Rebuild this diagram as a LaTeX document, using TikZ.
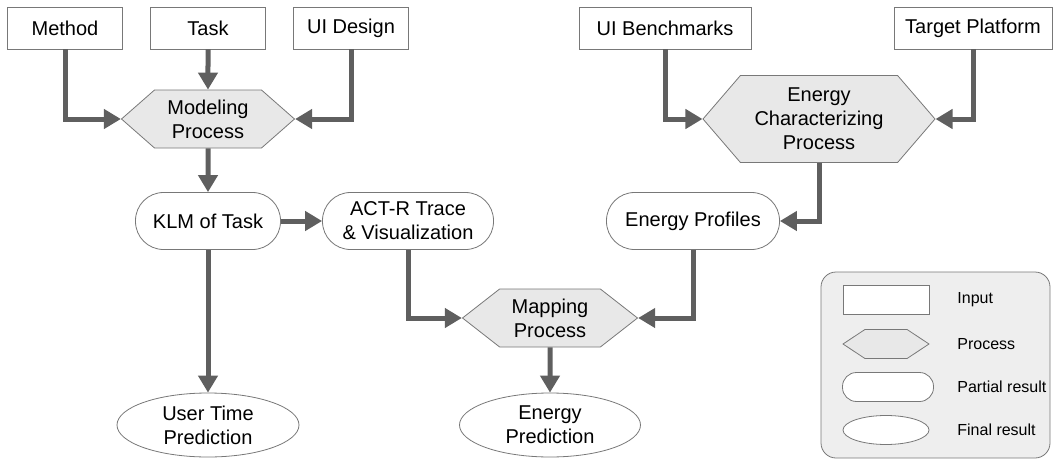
\documentclass[tikz,border=0pt]{standalone}
\usepackage{fontspec}
\setmainfont{Liberation Sans}
\usetikzlibrary{shapes.geometric,shapes.symbols,arrows.meta}
\definecolor{edgegray}{RGB}{120,120,120}
\definecolor{arrowgray}{RGB}{95,95,95}
\definecolor{procfill}{RGB}{232,232,232}
\definecolor{legfill}{RGB}{238,238,238}
\begin{document}
\begin{tikzpicture}[
        x=1pt, y=-1pt,
        every node/.style={draw=edgegray, line width=0.8pt, align=center, inner sep=0pt,
            font=\fontsize{20}{24}\selectfont},
        input/.style={rectangle, fill=white, minimum width=115pt, minimum height=42pt},
        process/.style={signal, signal to=west and east, fill=procfill, minimum height=58pt},
        partial/.style={rectangle, rounded corners=28pt, fill=white, minimum height=57pt},
        final/.style={ellipse, fill=white, minimum width=182pt, minimum height=64pt},
        legtext/.style={draw=none, anchor=west, font=\fontsize{16}{19}\selectfont},
        flow/.style={draw=arrowgray, line width=5pt, -{Triangle[length=17pt,width=19pt]}},
    ]
    \useasboundingbox (0,0) rectangle (1055,460);
    % inputs
    \node[input](method) at (65,28){Method};
    \node[input](task) at (208,28){Task};
    \node[input](uidesign) at (351,28){UI Design};
    \node[input, minimum width=172pt](bench) at (665,28){UI Benchmarks};
    \node[input, minimum width=158pt](platform) at (973,28){Target Platform};
    % processes
    \node[process, minimum width=173pt, signal pointer angle=82.6](modeling) at (208,119){Modeling\\Process};
    \node[process, minimum width=232pt, minimum height=87pt, signal pointer angle=98.6](echar) at (819,119){Energy\\Characterizing\\Process};
    \node[process, minimum width=175pt, signal pointer angle=76](mapping) at (550,318){Mapping\\Process};
    % partial results
    \node[partial, minimum width=145pt](klm) at (208,221){KLM of Task};
    \node[partial, minimum width=171pt](actr) at (408,221){ACT-R Trace\\\& Visualization};
    \node[partial, minimum width=173pt](eprof) at (693,221){Energy Profiles};
    % final results
    \node[final](usertime) at (208,425){User Time\\Prediction};
    \node[final, minimum width=181pt](eprediction) at (550,425){Energy\\Prediction};
    % legend
    \node[draw=edgegray, fill=legfill, rounded corners=15pt, minimum width=229pt, minimum height=186pt](legend) at (935.5,365){};
    \node[input, minimum width=86pt, minimum height=29pt](leginput) at (886,300){};
    \node[process, minimum width=86pt, minimum height=29pt, signal pointer angle=67](legprocess) at (886,344){};
    \node[partial, rounded corners=14pt, minimum width=91pt, minimum height=29pt](legpartial) at (888,387){};
    \node[final, minimum width=86pt, minimum height=29pt](legfinal) at (886,430){};
    \node[legtext] at (957,300){Input};
    \node[legtext] at (957,344){Process};
    \node[legtext] at (957,387){Partial result};
    \node[legtext] at (957,430){Final result};
    % connectors
    \draw[flow] (method.south) |- (modeling.west);
    \draw[flow] (task) -- (modeling);
    \draw[flow] (uidesign.south) |- (modeling.east);
    \draw[flow] (modeling) -- (klm);
    \draw[flow] (klm) -- (actr);
    \draw[flow] (klm) -- (usertime);
    \draw[flow] (bench.south) |- (echar.west);
    \draw[flow] (platform.south) |- (echar.east);
    \draw[flow] (echar.south) |- (eprof.east);
    \draw[flow] (actr.south) |- (mapping.west);
    \draw[flow] (eprof.south) |- (mapping.east);
    \draw[flow] (mapping) -- (eprediction);
\end{tikzpicture}
\end{document}
